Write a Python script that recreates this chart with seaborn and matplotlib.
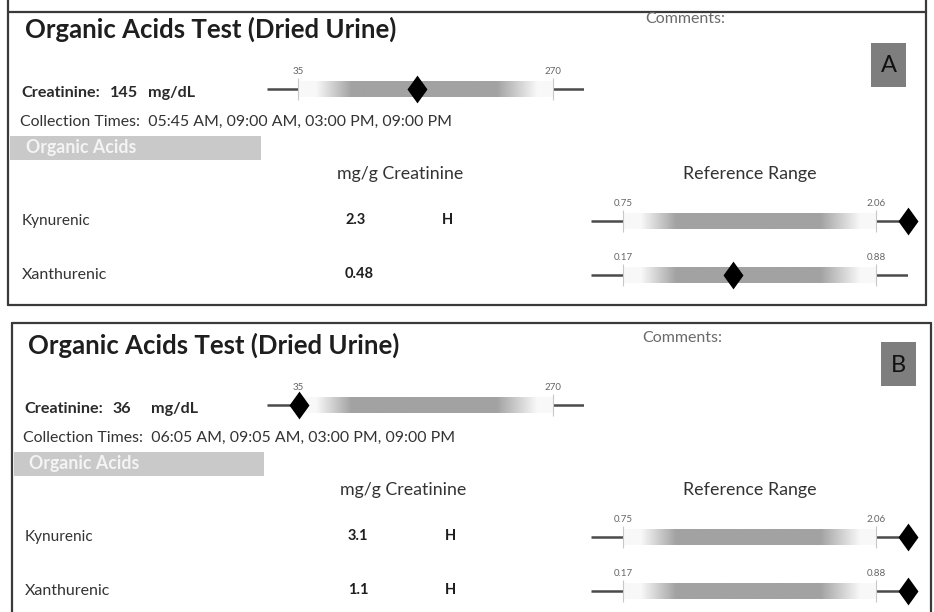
import numpy as np
import pandas as pd
import matplotlib
matplotlib.use("Agg")
import matplotlib.pyplot as plt
from matplotlib.colors import LinearSegmentedColormap
from matplotlib.patches import Rectangle
import seaborn as sns

# ---------------- data ----------------
panel_labels = ["A", "B"]
creatinine_values = [145, 36]
creatinine_low = 35
creatinine_high = 270
collection_times = ["05:45 AM, 09:00 AM, 03:00 PM, 09:00 PM",
                    "06:05 AM, 09:05 AM, 03:00 PM, 09:00 PM"]
acid_names = ["Kynurenic", "Xanthurenic"]
acid_values_a = [2.3, 0.48]
acid_values_b = [3.1, 1.1]
acid_flags_a = ["H", ""]
acid_flags_b = ["H", "H"]
ref_low = [0.75, 0.17]
ref_high = [2.06, 0.88]

acid_values = [acid_values_a, acid_values_b]
acid_flags = [acid_flags_a, acid_flags_b]

# ---------------- style ----------------
sns.set_theme(style="white")
plt.rcParams["font.family"] = ["Lato", "DejaVu Sans"]

W, H = 934, 612
fig = plt.figure(figsize=(W / 100, H / 100), dpi=100)
bg = fig.add_axes([0, 0, 1, 1])
bg.set_xlim(0, W)
bg.set_ylim(H, 0)
bg.axis("off")
renderer = fig.canvas.get_renderer()


def put(x, y, s, width=None, size=10, ha="left", weight="normal",
        color="#2a2a2a", **kw):
    t = bg.text(x, y, s, ha=ha, va="center", fontsize=size,
                fontweight=weight, color=color, **kw)
    if width:
        w = t.get_window_extent(renderer).width
        t.set_fontsize(size * width / w)
    return t


def fitted_size(s, width, size=10, weight="normal"):
    t = bg.text(0, 0, s, fontsize=size, fontweight=weight)
    w = t.get_window_extent(renderer).width
    t.remove()
    return size * width / w


cmap = LinearSegmentedColormap.from_list("bar", ["white", "#a2a2a2"])
prof = np.interp(np.linspace(0, 1, 400),
                 [0, 0.07, 0.21, 0.78, 0.94, 1.0],
                 [0.07, 0.07, 1.0, 1.0, 0.07, 0.07])[None, :]
diamond = [(0, 1), (0.72, 0), (0, -1), (-0.72, 0), (0, 1)]


def gauge(x_lo_px, x_hi_px, pad_px, yc, lo, hi, value):
    span = hi - lo
    pad = span * pad_px / (x_hi_px - x_lo_px)
    x0, x1 = x_lo_px - pad_px, x_hi_px + pad_px
    hh = 16
    ax = fig.add_axes([x0 / W, 1 - (yc + hh) / H, (x1 - x0) / W, 2 * hh / H])
    ax.imshow(prof, extent=(lo, hi, -8, 8), aspect="auto", cmap=cmap,
              vmin=0, vmax=1, interpolation="bilinear")
    ax.plot([lo - pad, lo], [0, 0], color="#4a4a4a", lw=1.8,
            solid_capstyle="butt")
    ax.plot([hi, hi + pad], [0, 0], color="#4a4a4a", lw=1.8,
            solid_capstyle="butt")
    ax.vlines([lo, hi], -11, 11, color="#c8c8c8", lw=0.8)
    ax.set_xlim(lo - pad, hi + pad)
    ax.set_ylim(-hh, hh)
    ax.axis("off")
    pos = float(np.clip(value, lo - pad, hi + pad))
    df = pd.DataFrame({"x": [pos], "y": [0.0]})
    sns.scatterplot(data=df, x="x", y="y", marker=diamond, s=20 ** 2,
                    color="black", edgecolor="black", linewidth=0, ax=ax,
                    legend=False, clip_on=False, zorder=5)
    ax.set_xlabel("")
    ax.set_ylabel("")
    return ax


def fmt_range(v):
    return str(int(v)) if float(v).is_integer() else f"{v:.2f}"


value_fs = fitted_size("0.48", 29, weight="bold")

# panel geometry (pixels)
panel_dy = [0, 316]
panel_dx = [0, 3]
label_box = [(871, 43), (881, 342)]
borders = [(8, 12, 926, 305), (12, 323, 931, 640)]

for i, lab in enumerate(panel_labels):
    dy, dx = panel_dy[i], panel_dx[i]
    bx0, by0, bx1, by1 = borders[i]
    # border
    bg.plot([bx0, bx1], [by0, by0], color="#3a3a3a", lw=1.6)
    bg.plot([bx0, bx1], [by1, by1], color="#3a3a3a", lw=1.6)
    top = 0 if i == 0 else by0
    bg.plot([bx0, bx0], [top, by1], color="#3a3a3a", lw=1.6)
    bg.plot([bx1, bx1], [top, by1], color="#3a3a3a", lw=1.6)

    put(25 + dx, 29 + dy, "Organic Acids Test (Dried Urine)", width=372,
        size=15, weight="bold", color="#1e1e1e")
    put(685 - dx, 19 + dy + (3 if i else 0), "Comments:", width=80, size=8,
        ha="center", color="#6a6a6a")

    lx, ly = label_box[i]
    bg.add_patch(Rectangle((lx, ly), 35, 44, color="#7e7e7e", lw=0))
    put(lx + 17.5, ly + 23, lab, size=17, ha="center", color="#111111")

    # creatinine
    t = put(21 + dx, 93 + dy, "Creatinine:", width=79, size=9, weight="bold")
    fs = t.get_fontsize()
    put(110 + dx, 93 + dy, str(creatinine_values[i]), size=fs, weight="bold")
    put(148 + dx, 93 + dy, "mg/dL", size=fs, weight="bold")
    gy = 89 + dy
    gauge(298, 553, 31, gy, creatinine_low, creatinine_high,
          creatinine_values[i])
    put(298, gy - 18, fmt_range(creatinine_low), size=7, ha="center",
        color="#666666")
    put(553, gy - 18, fmt_range(creatinine_high), size=7, ha="center",
        color="#666666")

    put(20 + dx, 122 + dy, "Collection Times:  " + collection_times[i],
        width=429, size=9, color="#333333")

    # header bar
    bg.add_patch(Rectangle((bx0 + 2, 136 + dy), 259 - bx0 + dx, 24,
                           color="#c9c9c9", lw=0))
    put(26 + dx, 148 + dy, "Organic Acids", width=110, size=10,
        weight="bold", color="#f4f4f4")

    put(400 + dx, 174 + dy, "mg/g Creatinine", width=126, size=10,
        ha="center", color="#333333")
    put(750, 174 + dy, "Reference Range", width=134, size=10,
        ha="center", color="#333333")

    rows_y = [220, 274]
    name_w = [69, 86]
    for j, name in enumerate(acid_names):
        ry = rows_y[j] + dy
        put(22 + dx, ry + 1, name, width=name_w[j], size=8, color="#333333")
        put(345 + dx, ry, str(acid_values[i][j]), size=value_fs,
            weight="bold", color="#1e1e1e")
        if acid_flags[i][j]:
            put(447 + dx, ry, acid_flags[i][j], size=value_fs, ha="center",
                weight="bold", color="#1e1e1e")
        gy = ry + 1
        gauge(623, 876, 32, gy, ref_low[j], ref_high[j], acid_values[i][j])
        put(623, gy - 18, fmt_range(ref_low[j]), size=7, ha="center",
            color="#666666")
        put(876, gy - 18, fmt_range(ref_high[j]), size=7, ha="center",
            color="#666666")

fig.savefig("out.png", dpi=100, facecolor="white")
